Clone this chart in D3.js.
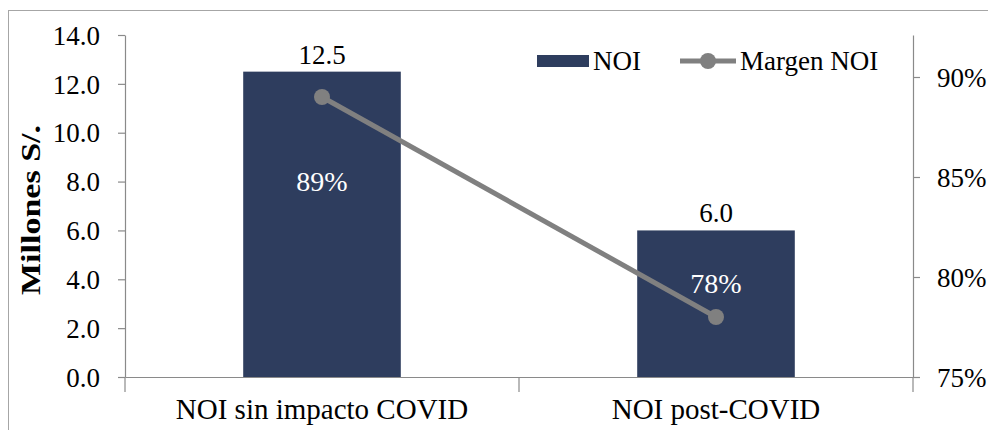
<!DOCTYPE html>
<html>
<head>
<meta charset="utf-8">
<script src="https://cdn.jsdelivr.net/npm/d3@7"></script>
<style>
  html, body { margin: 0; padding: 0; background: #fff; }
  svg { display: block; }
</style>
</head>
<body>
<svg id="chart" width="988" height="430"></svg>
<script>
// NOI by scenario (millions of soles) and NOI margin (%)
const categories = ["NOI sin impacto COVID", "NOI post-COVID"];
const noiValues = [12.5, 6.0];
const marginValues = [89, 78];
const leftTicks = [0, 2, 4, 6, 8, 10, 12, 14];
const rightTicks = [75, 80, 85, 90];

const FONT = "'Liberation Serif', 'Times New Roman', Times, serif";
const svg = d3.select("#chart");
const W = 988, H = 430;
const plot = { left: 125, right: 913, top: 35, bottom: 377 };
const barColor = "#2E3D5E";
const lineColor = "#808080";
const axisColor = "#8a8a8a";

function styleText(sel, size) {
  return sel.style("font-family", FONT).style("font-size", size + "px").attr("fill", "#000");
}

// outer frame
svg.append("rect")
  .attr("x", 8.5).attr("y", 10.5)
  .attr("width", W).attr("height", H)
  .attr("fill", "none").attr("stroke", "#a6a6a6").attr("stroke-width", 1);

const x = d3.scaleBand().domain(categories)
  .range([plot.left, plot.right]).paddingInner(0).paddingOuter(0);
const barW = x.bandwidth() * 0.4;
const cx = (d, i) => x(categories[i]) + x.bandwidth() / 2;
const y = d3.scaleLinear().domain([0, 14]).range([plot.bottom, plot.top]);
const y2 = d3.scaleLinear().domain([75, 92.1]).range([plot.bottom, plot.top]);

// bars
svg.selectAll("rect.bar").data(noiValues).enter().append("rect")
  .attr("class", "bar")
  .attr("x", (d, i) => cx(d, i) - barW / 2)
  .attr("y", d => y(d))
  .attr("width", barW)
  .attr("height", d => plot.bottom - y(d))
  .attr("fill", barColor);

// axes
const gL = svg.append("g").attr("transform", `translate(${plot.left},0)`)
  .call(d3.axisLeft(y).tickValues(leftTicks).tickFormat(d3.format(".1f")).tickSize(7).tickSizeOuter(0));
const gR = svg.append("g").attr("transform", `translate(${plot.right},0)`)
  .call(d3.axisRight(y2).tickValues(rightTicks).tickFormat(d => d + "%").tickSize(7).tickSizeOuter(0));
const gB = svg.append("g").attr("transform", `translate(0,${plot.bottom})`)
  .call(d3.axisBottom(x).tickSize(0).tickSizeOuter(0));

[gL, gR, gB].forEach(g => {
  g.attr("font-family", null).attr("font-size", null);
  g.selectAll("path.domain").attr("stroke", axisColor).attr("stroke-width", 1.2);
  g.selectAll(".tick line").attr("stroke", axisColor).attr("stroke-width", 1.2);
});
styleText(gL.selectAll("text"), 27).attr("x", -25).attr("dy", "0.34em");
styleText(gR.selectAll("text"), 27).attr("x", 24).attr("dy", "0.34em");
styleText(gB.selectAll("text"), 29).attr("y", 42).attr("dy", 0);

// category separators on the x axis
const sepX = [plot.left, x(categories[1]), plot.right];
svg.selectAll("line.sep").data(sepX).enter().append("line")
  .attr("class", "sep")
  .attr("x1", d => d).attr("x2", d => d)
  .attr("y1", plot.bottom).attr("y2", plot.bottom + 15)
  .attr("stroke", axisColor).attr("stroke-width", 1.2);

// y axis title
styleText(svg.append("text"), 27)
  .attr("transform", `translate(40,${(plot.top + plot.bottom) / 2 + 4}) rotate(-90)`)
  .attr("text-anchor", "middle")
  .style("font-weight", "bold")
  .attr("textLength", 170).attr("lengthAdjust", "spacingAndGlyphs")
  .text("Millones S/.");

// bar value labels
styleText(svg.selectAll("text.val").data(noiValues).enter().append("text"), 27)
  .attr("class", "val")
  .attr("x", cx)
  .attr("y", d => y(d) - 8)
  .attr("text-anchor", "middle")
  .text(d => d3.format(".1f")(d));

// margin line with markers
svg.append("path")
  .datum(marginValues)
  .attr("d", d3.line().x(cx).y(d => y2(d)))
  .attr("fill", "none").attr("stroke", lineColor).attr("stroke-width", 5);
svg.selectAll("circle.pt").data(marginValues).enter().append("circle")
  .attr("class", "pt")
  .attr("cx", cx).attr("cy", d => y2(d)).attr("r", 8)
  .attr("fill", lineColor);

// margin labels inside the bars
styleText(svg.selectAll("text.pct").data(marginValues).enter().append("text"), 28)
  .attr("class", "pct")
  .attr("x", cx)
  .attr("y", (d, i) => y(noiValues[i] * 0.64))
  .attr("dy", "0.34em")
  .attr("text-anchor", "middle").attr("fill", "#fff")
  .text(d => d + "%");

// legend
const lg = svg.append("g");
lg.append("rect").attr("x", 537).attr("y", 55).attr("width", 52).attr("height", 12).attr("fill", barColor);
styleText(lg.append("text"), 27).attr("x", 593).attr("y", 70).text("NOI");
lg.append("line").attr("x1", 680).attr("x2", 736).attr("y1", 61).attr("y2", 61)
  .attr("stroke", lineColor).attr("stroke-width", 5);
lg.append("circle").attr("cx", 708).attr("cy", 61).attr("r", 8).attr("fill", lineColor);
styleText(lg.append("text"), 27).attr("x", 740).attr("y", 70).text("Margen NOI");
</script>
</body>
</html>
